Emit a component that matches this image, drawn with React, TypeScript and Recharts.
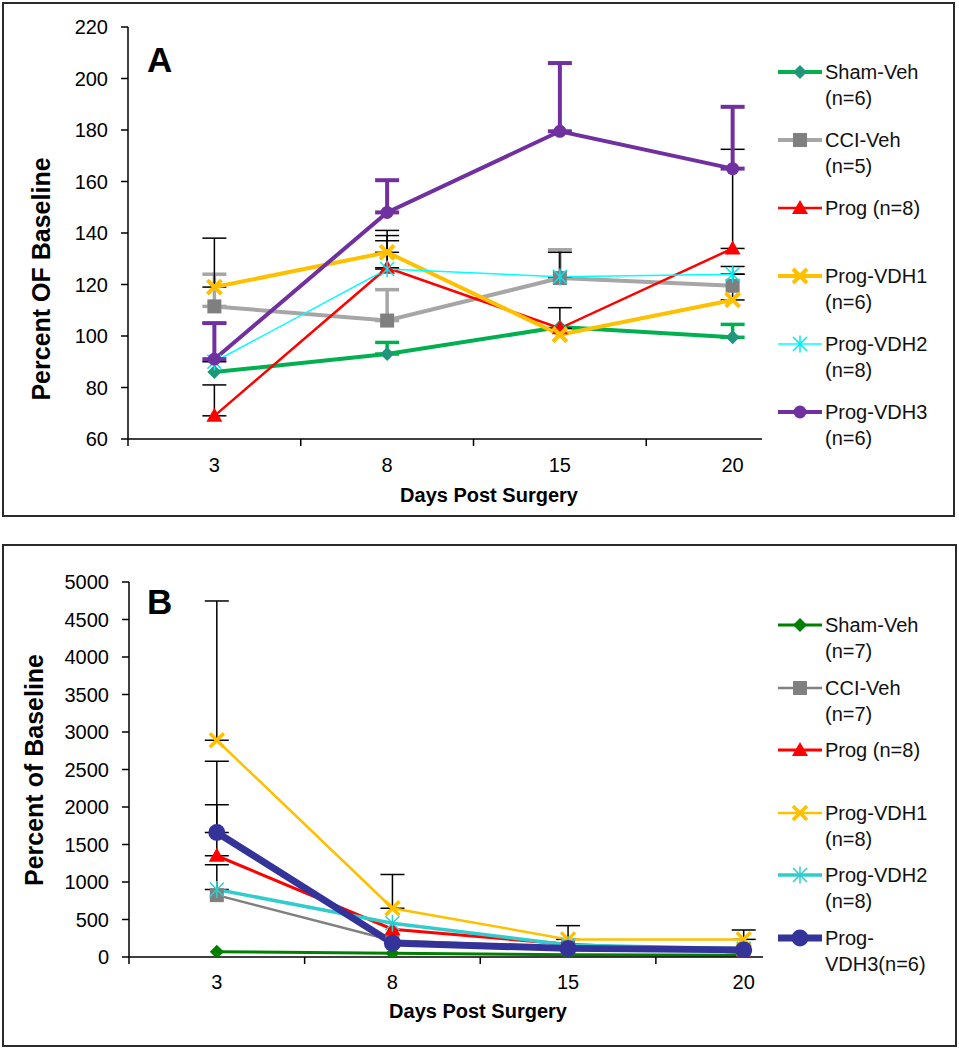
import React from 'react';
import { LineChart, Line, XAxis, YAxis, ErrorBar, Legend, Label } from 'recharts';

const FONT = 'Arial, "Liberation Sans", sans-serif';

const DAYS = ['3', '8', '15', '20'];
const DAY_IDX = [0, 1, 2, 3];

// Panel A: percent of baseline
const A_TICKS = [60, 80, 100, 120, 140, 160, 180, 200, 220];
const A_SHAM = [86, 93, 103.5, 99.5];
const A_CCI = [111.5, 106, 122.5, 119.5];
const A_PROG = [69, 126.5, 103, 134];
const A_VDH1 = [119, 132.5, 100.5, 114];
const A_VDH2 = [90, 126, 123, 124];
const A_VDH3 = [91, 148, 179.5, 165];
// upper error (SEM), null = not drawn
const A_SHAM_ERR = [null, 4.5, null, 5];
const A_CCI_ERR = [12.5, 12, 11, null];
const A_PROG_ERR = [12, 12.5, 8, 38.5];
const A_VDH1_ERR = [19, 8.5, null, 10];
const A_VDH2_ERR = [15, 11, 9.5, 3];
const A_VDH3_ERR = [14, 12.5, 26.5, 24];

// Panel B
const B_TICKS = [0, 500, 1000, 1500, 2000, 2500, 3000, 3500, 4000, 4500, 5000];
const B_SHAM = [70, 50, 30, 25];
const B_CCI = [825, 220, 130, 90];
const B_PROG = [1350, 370, 170, 60];
const B_VDH1 = [2890, 650, 235, 235];
const B_VDH2 = [900, 450, 160, 110];
const B_VDH3 = [1660, 185, 115, 95];
const B_PROG_ERR = [680, null, null, null];
const B_VDH1_ERR = [1857, 450, 183, 125];
const B_VDH2_ERR = [330, null, null, null];
const B_VDH3_ERR = [950, null, null, null];

type Kind = 'diamond' | 'square' | 'triangle' | 'x' | 'star' | 'circle';

interface SeriesDef {
  key: string;
  label: string[];
  values: number[];
  err: (number | null)[];
  color: string;
  width: number;
  marker: Kind;
  markerColor: string;
  size: number;
  markerStroke?: number;
  errColor: string;
  errWidth: number;
}

const SERIES_A: SeriesDef[] = [
  { key: 'sham', label: ['Sham-Veh', '(n=6)'], values: A_SHAM, err: A_SHAM_ERR, color: '#00B050', width: 4, marker: 'diamond', markerColor: '#20957c', size: 7, errColor: '#00B050', errWidth: 3.5 },
  { key: 'cci', label: ['CCI-Veh', '(n=5)'], values: A_CCI, err: A_CCI_ERR, color: '#A6A6A6', width: 4, marker: 'square', markerColor: '#7F7F7F', size: 7, errColor: '#A6A6A6', errWidth: 3.5 },
  { key: 'prog', label: ['Prog (n=8)'], values: A_PROG, err: A_PROG_ERR, color: '#FF0000', width: 2.5, marker: 'triangle', markerColor: '#FF0000', size: 8, errColor: '#000', errWidth: 1.5 },
  { key: 'vdh1', label: ['Prog-VDH1', '(n=6)'], values: A_VDH1, err: A_VDH1_ERR, color: '#FFC000', width: 4, marker: 'x', markerColor: '#FFC000', size: 7, markerStroke: 4, errColor: '#000', errWidth: 1.5 },
  { key: 'vdh2', label: ['Prog-VDH2', '(n=8)'], values: A_VDH2, err: A_VDH2_ERR, color: '#00FFFF', width: 1.5, marker: 'star', markerColor: '#00E8F0', size: 7, markerStroke: 1.5, errColor: '#000', errWidth: 1.5 },
  { key: 'vdh3', label: ['Prog-VDH3', '(n=6)'], values: A_VDH3, err: A_VDH3_ERR, color: '#7030A0', width: 4, marker: 'circle', markerColor: '#7030A0', size: 6.5, errColor: '#7030A0', errWidth: 4 },
];

const SERIES_B: SeriesDef[] = [
  { key: 'sham', label: ['Sham-Veh', '(n=7)'], values: B_SHAM, err: [null, null, null, null], color: '#008000', width: 3, marker: 'diamond', markerColor: '#008000', size: 7, errColor: '#000', errWidth: 1.5 },
  { key: 'cci', label: ['CCI-Veh', '(n=7)'], values: B_CCI, err: [null, null, null, null], color: '#808080', width: 2.5, marker: 'square', markerColor: '#808080', size: 7, errColor: '#000', errWidth: 1.5 },
  { key: 'prog', label: ['Prog (n=8)'], values: B_PROG, err: B_PROG_ERR, color: '#FF0000', width: 3, marker: 'triangle', markerColor: '#FF0000', size: 8, errColor: '#000', errWidth: 1.5 },
  { key: 'vdh1', label: ['Prog-VDH1', '(n=8)'], values: B_VDH1, err: B_VDH1_ERR, color: '#FFC000', width: 2.5, marker: 'x', markerColor: '#FFC000', size: 7, markerStroke: 3.5, errColor: '#000', errWidth: 1.5 },
  { key: 'vdh2', label: ['Prog-VDH2', '(n=8)'], values: B_VDH2, err: B_VDH2_ERR, color: '#33CCCC', width: 3.5, marker: 'star', markerColor: '#33CCCC', size: 7, markerStroke: 1.5, errColor: '#000', errWidth: 1.5 },
  { key: 'vdh3', label: ['Prog-', 'VDH3(n=6)'], values: B_VDH3, err: B_VDH3_ERR, color: '#333399', width: 7, marker: 'circle', markerColor: '#333399', size: 8.5, errColor: '#000', errWidth: 1.5 },
];

function Marker({ kind, cx, cy, color, size, sw = 2 }: { kind: Kind; cx: number; cy: number; color: string; size: number; sw?: number }) {
  const s = size;
  switch (kind) {
    case 'diamond':
      return <polygon points={`${cx},${cy - s} ${cx + s},${cy} ${cx},${cy + s} ${cx - s},${cy}`} fill={color} />;
    case 'square':
      return <rect x={cx - s} y={cy - s} width={2 * s} height={2 * s} fill={color} />;
    case 'triangle':
      return <polygon points={`${cx},${cy - s} ${cx + s},${cy + s * 0.75} ${cx - s},${cy + s * 0.75}`} fill={color} />;
    case 'x':
      return (
        <path d={`M${cx - s},${cy - s}L${cx + s},${cy + s}M${cx - s},${cy + s}L${cx + s},${cy - s}`} stroke={color} strokeWidth={sw} fill="none" />
      );
    case 'star':
      return (
        <path
          d={`M${cx - s},${cy - s}L${cx + s},${cy + s}M${cx - s},${cy + s}L${cx + s},${cy - s}M${cx},${cy - s * 1.2}L${cx},${cy + s * 1.2}`}
          stroke={color}
          strokeWidth={sw}
          fill="none"
        />
      );
    default:
      return <circle cx={cx} cy={cy} r={s} fill={color} />;
  }
}

function LegendBlock({ series, step }: { series: SeriesDef[]; step: number }) {
  return (
    <div style={{ fontFamily: FONT, fontSize: 20, color: '#111', lineHeight: '26px' }}>
      {series.map((s) => (
        <div key={s.key} style={{ height: step, display: 'flex', alignItems: 'flex-start' }}>
          <svg width={46} height={26} style={{ flex: 'none' }}>
            <line x1={0} x2={44} y1={13} y2={13} stroke={s.color} strokeWidth={s.width} />
            <Marker kind={s.marker} cx={22} cy={13} color={s.markerColor} size={s.size} sw={s.markerStroke} />
          </svg>
          <div style={{ marginLeft: 1, whiteSpace: 'nowrap' }}>
            {s.label.map((l) => (
              <div key={l}>{l}</div>
            ))}
          </div>
        </div>
      ))}
    </div>
  );
}

interface PanelDef {
  letter: string;
  series: SeriesDef[];
  yDomain: [number, number];
  yTicks: number[];
  yTitle: string;
  top: number;
  height: number;
  marginTop: number;
  plotLeft: number;
  plotRight: number;
  xMax: number;
  tickMargin: number;
  yTitleX: number;
  yTitleY: number;
  xTitleX: number;
  xTitleY: number;
  legendTop: number;
  legendStep: number;
  letterTop: number;
}

const CHART_W = 959;
const X_AXIS_H = 70;

function DayTick(props: any) {
  const { x, y, payload, index, halfBand, margin } = props;
  const axisY = y - margin;
  return (
    <g>
      <text x={x} y={y} dy="0.71em" textAnchor="middle" fontSize={20} fill="#000" fontFamily={FONT}>
        {DAYS[payload.value]}
      </text>
      {index < DAYS.length - 1 && (
        <line x1={x + halfBand} x2={x + halfBand} y1={axisY} y2={axisY + 7} stroke="#000" strokeWidth={1.5} />
      )}
      {index === 0 && <line x1={x - halfBand} x2={x - halfBand} y1={axisY} y2={axisY + 7} stroke="#000" strokeWidth={1.5} />}
    </g>
  );
}

function Panel({ p }: { p: PanelDef }) {
  const rows = DAY_IDX.map((i) => {
    const row: Record<string, any> = { idx: i, day: DAYS[i] };
    p.series.forEach((s) => {
      row[s.key] = s.values[i];
      row[`${s.key}Err`] = s.err[i] == null ? null : [0, s.err[i]];
    });
    return row;
  });
  const plotW = p.plotRight - p.plotLeft;
  const halfBand = plotW / (p.xMax + 0.5) / 2;

  return (
    <div style={{ position: 'absolute', left: 0, top: p.top, width: CHART_W, height: p.height }}>
      <LineChart
        width={CHART_W}
        height={p.height}
        data={rows}
        margin={{ top: p.marginTop, right: CHART_W - p.plotRight, left: 0, bottom: 0 }}
        style={{ fontFamily: FONT }}
      >
        <XAxis
          dataKey="idx"
          type="number"
          domain={[-0.5, p.xMax]}
          ticks={DAY_IDX}
          interval={0}
          allowDataOverflow
          height={X_AXIS_H}
          tickSize={0}
          tickMargin={p.tickMargin}
          tickLine={false}
          axisLine={{ stroke: '#000', strokeWidth: 1.5 }}
          tick={(tp: any) => <DayTick {...tp} halfBand={halfBand} margin={p.tickMargin} />}
        >
          <Label
            content={() => (
              <text x={p.xTitleX} y={p.xTitleY} textAnchor="middle" fontSize={20} fontWeight="bold" fill="#000" fontFamily={FONT}>
                Days Post Surgery
              </text>
            )}
          />
        </XAxis>
        <YAxis
          type="number"
          domain={p.yDomain}
          ticks={p.yTicks}
          interval={0}
          allowDataOverflow
          width={p.plotLeft}
          tickSize={7}
          tickMargin={13}
          tick={{ fontSize: 20, fill: '#000', fontFamily: FONT }}
          axisLine={{ stroke: '#000', strokeWidth: 1.5 }}
          tickLine={{ stroke: '#000', strokeWidth: 1.5 }}
        >
          <Label
            content={() => (
              <text
                x={p.yTitleX}
                y={p.yTitleY}
                transform={`rotate(-90 ${p.yTitleX} ${p.yTitleY})`}
                textAnchor="middle"
                fontSize={25}
                fontWeight="bold"
                fill="#000"
                fontFamily={FONT}
              >
                {p.yTitle}
              </text>
            )}
          />
        </YAxis>
        <Legend
          layout="vertical"
          align="center"
          verticalAlign="middle"
          wrapperStyle={{ left: 778, top: p.legendTop, width: 180 }}
          content={() => <LegendBlock series={p.series} step={p.legendStep} />}
        />
        {p.series.map((s) => (
          <Line
            key={s.key}
            type="linear"
            dataKey={s.key}
            name={s.label.join(' ')}
            stroke={s.color}
            strokeWidth={s.width}
            isAnimationActive={false}
            activeDot={false}
            dot={(d: any) => (
              <Marker key={`${s.key}-${d.index}`} kind={s.marker} cx={d.cx} cy={d.cy} color={s.markerColor} size={s.size} sw={s.markerStroke} />
            )}
          >
            <ErrorBar dataKey={`${s.key}Err`} direction="y" width={12} stroke={s.errColor} strokeWidth={s.errWidth} isAnimationActive={false} />
          </Line>
        ))}
      </LineChart>
      <div
        style={{
          position: 'absolute',
          left: 147,
          top: p.letterTop,
          fontFamily: FONT,
          fontWeight: 'bold',
          fontSize: 35,
          lineHeight: '35px',
          color: '#000',
        }}
      >
        {p.letter}
      </div>
    </div>
  );
}

const PANEL_A: PanelDef = {
  letter: 'A',
  series: SERIES_A,
  yDomain: [60, 220],
  yTicks: A_TICKS,
  yTitle: 'Percent OF Baseline',
  top: 0,
  height: 509,
  marginTop: 27,
  plotLeft: 128,
  plotRight: 762,
  xMax: 3.17,
  tickMargin: 19,
  yTitleX: 50,
  yTitleY: 279,
  xTitleX: 489,
  xTitleY: 502,
  legendTop: 59,
  legendStep: 68,
  letterTop: 42,
};

const PANEL_B: PanelDef = {
  letter: 'B',
  series: SERIES_B,
  yDomain: [0, 5000],
  yTicks: B_TICKS,
  yTitle: 'Percent of Baseline',
  top: 544,
  height: 483,
  marginTop: 38,
  plotLeft: 129,
  plotRight: 763,
  xMax: 3.11,
  tickMargin: 18,
  yTitleX: 43,
  yTitleY: 226,
  xTitleX: 478,
  xTitleY: 474,
  legendTop: 68,
  legendStep: 62.6,
  letterTop: 40,
};

const frame = (left: number, top: number, width: number, height: number): React.CSSProperties => ({
  position: 'absolute',
  left,
  top,
  width,
  height,
  border: '2px solid #2a2a2a',
  boxSizing: 'border-box',
  pointerEvents: 'none',
  zIndex: 5,
});

export default function App() {
  return (
    <div style={{ position: 'absolute', left: 0, top: 0, width: 959, height: 1050, background: '#fff' }}>
      <Panel p={PANEL_A} />
      <Panel p={PANEL_B} />
      <div style={frame(2, 2, 953, 515)} />
      <div style={frame(2, 544, 955, 503)} />
    </div>
  );
}
